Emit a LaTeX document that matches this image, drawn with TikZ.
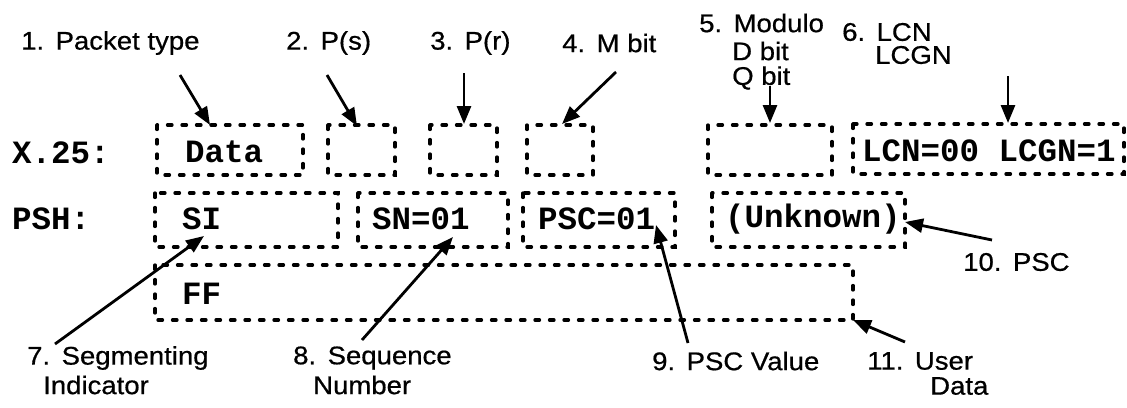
\documentclass[tikz,border=0pt]{standalone}
\usepackage{fontspec}
\setmainfont{Liberation Sans}
\newfontfamily\lblf[FakeStretch=1.08,FakeBold=0.6]{Liberation Sans}
\newfontfamily\monof{Liberation Mono}
\usetikzlibrary{arrows.meta}
\begin{document}
\begin{tikzpicture}[x=1pt,y=-1pt,
  box/.style={draw, line width=3.3pt, dash pattern=on 4.5pt off 10pt, line cap=round, inner sep=0pt},
  lbl/.style={font=\lblf\fontsize{25.5}{28}\selectfont, anchor=west, inner sep=0pt},
  mono/.style={font=\monof\bfseries\fontsize{32.5}{33}\selectfont, anchor=west, inner sep=0pt},
  arr/.style={line width=2.8pt, -{Triangle[length=18pt,width=14pt]}}]
\useasboundingbox (0,0) rectangle (1127,407);
% row labels
\node[mono] (x25) at (12,153) {X.25:};
\node[mono] (psh) at (12,219) {PSH:};
% X.25 row boxes
\draw[box] (157,125) rectangle (303,175);
\draw[box] (328,125) rectangle (395,175);
\draw[box] (430,125) rectangle (497,175);
\draw[box] (527,125) rectangle (593,175);
\draw[box] (708,125) rectangle (832,175);
\draw[box] (853,124) rectangle (1124,174);
% PSH row boxes
\draw[box] (155,193) rectangle (338,247);
\draw[box] (358,193) rectangle (508,247);
\draw[box] (523,193) rectangle (675,247);
\draw[box] (712,193) rectangle (905,247);
% FF box
\draw[box] (155,265) rectangle (853,320);
% texts in boxes
\node[mono] (tdata) at (185,152) {Data};
\node[mono] (tlcn) at (862,151) {LCN=00 LCGN=1};
\node[mono] (tsi) at (182,219) {SI};
\node[mono] (tsn) at (372,219) {SN=01};
\node[mono] (tpsc) at (538,219) {PSC=01};
\node[mono] (tunk) at (725,219) {(Unknown)};
\node[mono] (tff) at (182,294) {FF};
% labels
\node[lbl] (l1) at (21,43) {1.\hspace{0.45em}Packet type};
\node[lbl] (l2) at (286,43) {2.\hspace{0.45em}P(s)};
\node[lbl] (l3) at (430,43) {3.\hspace{0.45em}P(r)};
\node[lbl] (l4) at (562,43) {4.\hspace{0.45em}M bit};
\node[lbl] (l5a) at (699,23) {5.\hspace{0.45em}Modulo};
\node[lbl] (l5b) at (732,51) {D bit};
\node[lbl] (l5c) at (732,78) {Q bit};
\node[lbl] (l6a) at (842,32) {6.\hspace{0.45em}LCN};
\node[lbl] (l6b) at (875,55) {LCGN};
\node[lbl] (l7a) at (27,358) {7.\hspace{0.45em}Segmenting};
\node[lbl] (l7b) at (43,385) {Indicator};
\node[lbl] (l8a) at (293,358) {8.\hspace{0.45em}Sequence};
\node[lbl] (l8b) at (313,385) {Number};
\node[lbl] (l9) at (652,361) {9.\hspace{0.45em}PSC Value};
\node[lbl] (l10) at (963,262) {10.\hspace{0.45em}PSC};
\node[lbl] (l11a) at (867,361) {11.\hspace{0.45em}User};
\node[lbl] (l11b) at (930,386) {Data};
% arrow end points
\coordinate (a1s) at (180,75);  \coordinate (a1e) at (210,125);
\coordinate (a2s) at (327,75);  \coordinate (a2e) at (357,126);
\coordinate (a3s) at (464,73);  \coordinate (a3e) at (464,124);
\coordinate (a4s) at (616,72);  \coordinate (a4e) at (562,124);
\coordinate (a5s) at (770,86);  \coordinate (a5e) at (770,123);
\coordinate (a6s) at (1008,76); \coordinate (a6e) at (1008,123);
\coordinate (a7s) at (55,344);  \coordinate (a7e) at (204,236);
\coordinate (a8s) at (362,340); \coordinate (a8e) at (453,237);
\coordinate (a9s) at (688,343); \coordinate (a9e) at (656,225);
\coordinate (a10s) at (992,240); \coordinate (a10e) at (905,222);
\coordinate (a11s) at (905,342); \coordinate (a11e) at (853,320);
\foreach \i in {1,...,11} {\draw[arr] (a\i s) -- (a\i e);}
\end{tikzpicture}
\end{document}
